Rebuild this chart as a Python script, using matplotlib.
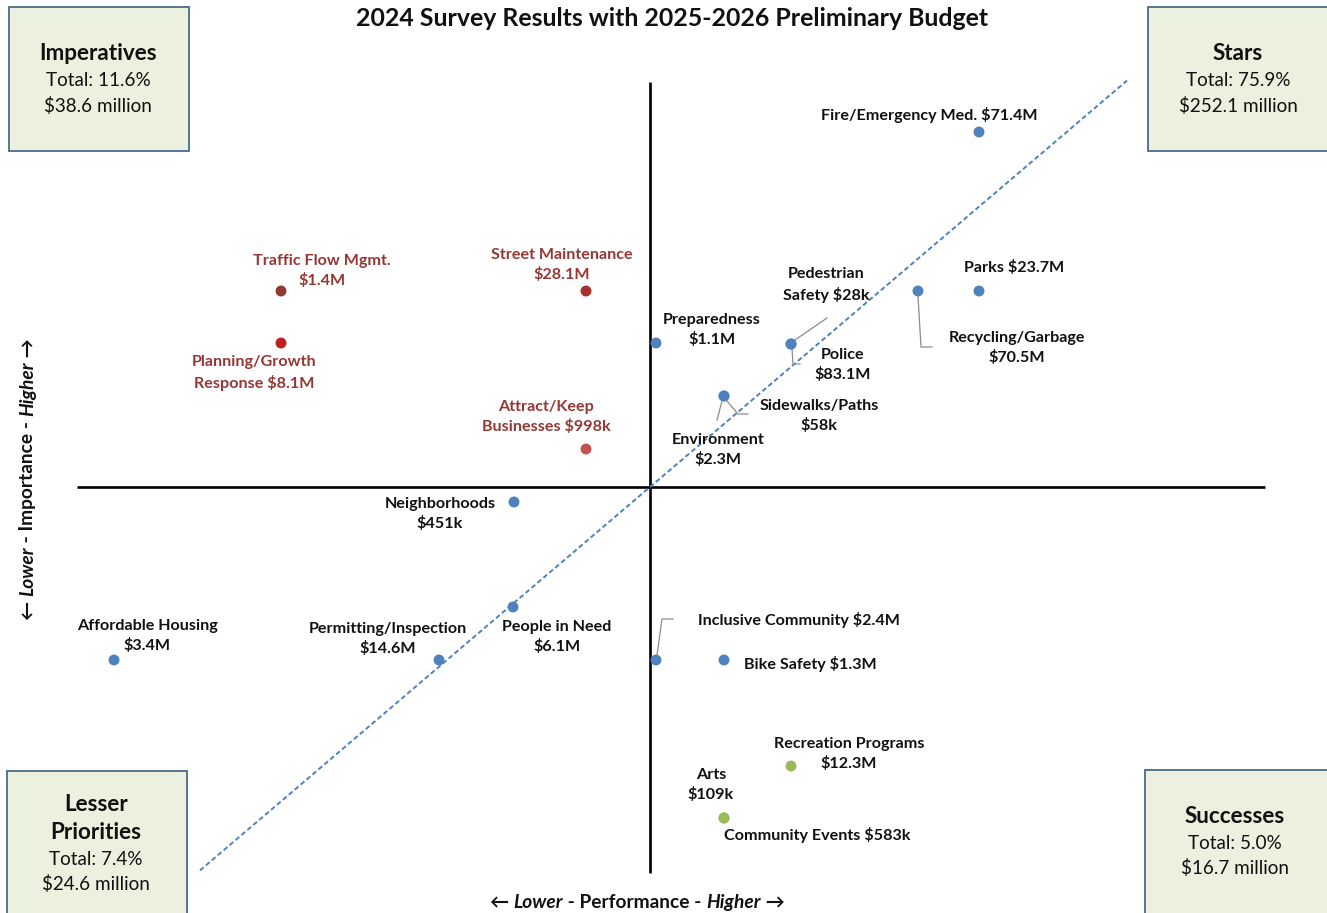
import numpy as np
import matplotlib.pyplot as plt
from matplotlib.patches import Rectangle

# ---- survey data: performance (x) vs importance (y), centred on the averages ----
programs = ['Fire/Emergency Med. $71.4M', 'Parks $23.7M', 'Recycling/Garbage\n$70.5M',
            'Police\n$83.1M', 'Pedestrian\nSafety $28k', 'Preparedness\n$1.1M',
            'Environment\n$2.3M', 'Sidewalks/Paths\n$58k', 'Neighborhoods\n$451k',
            'People in Need\n$6.1M', 'Permitting/Inspection\n$14.6M', 'Affordable Housing\n$3.4M',
            'Inclusive Community $2.4M', 'Bike Safety $1.3M',
            'Traffic Flow Mgmt.\n$1.4M', 'Planning/Growth\nResponse $8.1M',
            'Street Maintenance\n$28.1M', 'Attract/Keep\nBusinesses $998k',
            'Recreation Programs\n$12.3M', 'Arts\n$109k', 'Community Events $583k']
performance = [3.29, 3.29, 2.68, 1.41, 1.41, 0.06, 0.74, 0.74, -1.36, -1.37, -2.11, -5.36,
               0.06, 0.74, -3.69, -3.69, -0.64, -0.64, 1.41, 0.74, 0.74]
importance = [3.55, 1.96, 1.96, 1.43, 1.43, 1.44, 0.91, 0.91, -0.15, -1.20, -1.73, -1.73,
              -1.73, -1.73, 1.96, 1.44, 1.96, 0.38, -2.79, -3.31, -3.31]
group = ['blue'] * 14 + ['red'] * 4 + ['green'] * 3

# quadrant summaries
quad_titles = [['Imperatives'], ['Stars'], ['Lesser', 'Priorities'], ['Successes']]
quad_share = ['11.6%', '75.9%', '7.4%', '5.0%']
quad_budget = ['$38.6 million', '$252.1 million', '$24.6 million', '$16.7 million']

# reference diagonal (performance == importance)
trend_slope = 0.852
trend_x = [-4.50, 4.77]

# ---- styling ----
plt.rcParams['font.family'] = ['Lato', 'DejaVu Sans']
blue = '#4F81BD'
green = '#9BBB59'
red_label = '#953735'
red_dots = {14: '#943634', 15: '#C0201E', 16: '#A8302E', 17: '#C8504D'}
box_fill = '#EBF1DE'
box_edge = '#4A6B8A'
ink = '#111111'

W, H = 1327, 913
fig = plt.figure(figsize=(W / 100, H / 100), dpi=100)
ax = fig.add_axes([0, 0, 1, 1])
ax.set_xlim(-6.50, 6.77)
ax.set_ylim(-4.26, 4.87)
ax.axis('off')


def fx(px):
    return px / W


def fy(py):
    return 1 - py / H


# quadrant axes
ax.plot([0, 0], [-3.86, 4.05], color='black', lw=1.9, solid_capstyle='butt')
ax.plot([-5.73, 6.15], [0, 0], color='black', lw=1.9, solid_capstyle='butt')

# diagonal reference line
tx = np.array(trend_x)
ax.plot(tx, trend_slope * tx, color=blue, lw=1.4, ls=(0, (2.5, 1.5)))

# points
for i, (x, y) in enumerate(zip(performance, importance)):
    if group[i] == 'blue':
        c = blue
    elif group[i] == 'green':
        c = green
    else:
        c = red_dots[i]
    ax.scatter(x, y, s=62, color=c, edgecolors='none', zorder=3)

# label offsets from each point, in pixels (right, down)
offsets = [(-50, -17), (35, -23), (99, 57), (52, 21), (35, -59), (56, -13),
           (-6, 54), (95, 20), (-74, 12), (44, 30), (-51, -21), (33, -24),
           (143, -40), (86, 4), (41, -20), (-27, 30), (-24, -26), (-40, -32),
           (58, -12), (-13, -33), (93, 17)]

for i, name in enumerate(programs):
    tc = red_label if group[i] == 'red' else ink
    dx, dy = offsets[i]
    ax.annotate(name, (performance[i], importance[i]), xytext=(dx, -dy),
                textcoords='offset pixels', ha='center', va='center',
                fontsize=11.6, fontweight='bold', color=tc, linespacing=1.4)

# leader lines for crowded labels (pixel offsets from the point)
leaders = [(3, [(4, -4), (36, -26)]),
           (3, [(1, 5), (2, 20), (9, 20)]),
           (6, [(-2, 5), (-7, 24)]),
           (6, [(3, 5), (14, 18), (24, 18)]),
           (2, [(0, 5), (3, 56), (14, 56)]),
           (12, [(1, -5), (6, -41), (17, -41)])]
for idx, path in leaders:
    base = ax.transData.transform((performance[idx], importance[idx]))
    pts = np.array([[base[0] + dx, base[1] - dy] for dx, dy in path])
    ax.plot(pts[:, 0], pts[:, 1], transform=None, color='#8C8C8C', lw=0.9, zorder=2)

# quadrant boxes
boxes = [(9, 7, 180, 144), (1148, 7, 185, 144), (7, 771, 180, 150), (1145, 770, 190, 150)]
title_y = [54, 54, 804, 816]
centers = [98, 1238, 96, 1235]
for k, (bx, by, bw, bh) in enumerate(boxes):
    ax.add_patch(Rectangle((fx(bx), fy(by + bh)), bw / W, bh / H, transform=ax.transAxes,
                           facecolor=box_fill, edgecolor=box_edge, lw=1.3, clip_on=False))
    ty = title_y[k]
    for line in quad_titles[k]:
        ax.text(fx(centers[k]), fy(ty), line, transform=ax.transAxes, ha='center',
                va='center', fontsize=16.2, fontweight='bold', color=ink)
        ty += 28
    ty -= 1
    ax.text(fx(centers[k]), fy(ty), 'Total: ' + quad_share[k], transform=ax.transAxes,
            ha='center', va='center', fontsize=13.6, color=ink)
    ax.text(fx(centers[k]), fy(ty + 25), quad_budget[k], transform=ax.transAxes,
            ha='center', va='center', fontsize=13.6, color=ink)

# title
ax.text(fx(672), fy(18), '2024 Survey Results with 2025-2026 Preliminary Budget',
        transform=ax.transAxes, ha='center', va='center', fontsize=17.9, fontweight='bold',
        color=ink)

# axis captions built from pieces so "Lower"/"Higher" can be italic
pieces = [('\u2190 ', 'normal'), ('Lower', 'italic'), (' - Performance - ', 'normal'),
          ('Higher', 'italic'), (' \u2192', 'normal')]
prev = ax.text(fx(490), fy(902), pieces[0][0], transform=ax.transAxes, ha='left',
               va='center', fontsize=13.8, fontweight='bold', color=ink)
for txt, style in pieces[1:]:
    prev = ax.annotate(txt, xy=(1, 0.5), xycoords=prev, ha='left', va='center',
                       fontsize=13.8, fontweight='bold', style=style, color=ink)

vpieces = [('\u2190 ', 'normal'), ('Lower', 'italic'), (' - Importance - ', 'normal'),
           ('Higher', 'italic'), (' \u2192', 'normal')]
prev = ax.text(fx(28), fy(620), vpieces[0][0], transform=ax.transAxes, ha='center',
               va='bottom', rotation=90, fontsize=13.8, fontweight='bold', color=ink)
for txt, style in vpieces[1:]:
    prev = ax.annotate(txt, xy=(0.5, 1), xycoords=prev, ha='center', va='bottom',
                       rotation=90, fontsize=13.8, fontweight='bold', style=style,
                       color=ink)

fig.savefig('out.png', dpi=100, facecolor='white')
